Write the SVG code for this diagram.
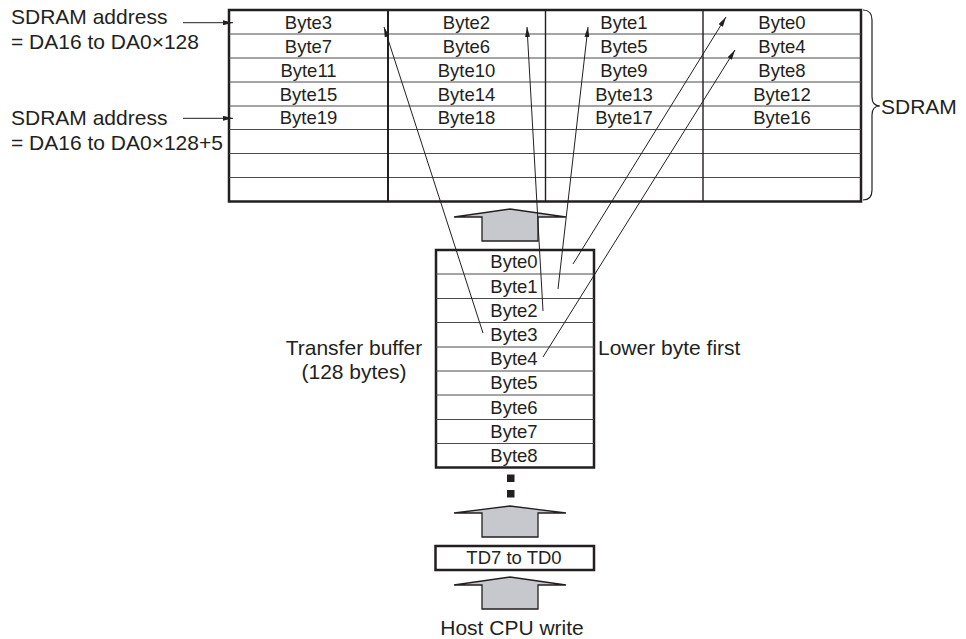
<svg xmlns="http://www.w3.org/2000/svg" width="966" height="639" viewBox="0 0 966 639">
<style>
  .t { font-family: "Liberation Sans", Arial, Helvetica, sans-serif; fill: #231f20; }
  .lbl { font-size: 21px; }
  .cell { font-size: 18.5px; text-anchor: middle; }
  .mid { text-anchor: middle; }
  .frame { fill: #ffffff; stroke: #231f20; stroke-width: 2.5; }
  .rule { stroke: #4a4a4a; stroke-width: 1; fill: none; }
  .col1 { stroke: #231f20; stroke-width: 2; }
  .col { stroke: #231f20; stroke-width: 1.4; }
  .conn { stroke: #231f20; stroke-width: 1; fill: none; marker-end: url(#ah); }
  .big { fill: #c6c8cd; stroke: #231f20; stroke-width: 1.3; stroke-linejoin: miter; }
  .brace { fill: none; stroke: #231f20; stroke-width: 1.2; }
</style>
<defs>
  <marker id="ah" markerWidth="10" markerHeight="5" refX="10" refY="2.5" orient="auto" markerUnits="userSpaceOnUse">
    <path d="M0,0 L10,2.5 L0,5 z" fill="#231f20"/>
  </marker>
</defs>
<rect width="966" height="639" fill="#ffffff"/>

<!-- SDRAM table -->
<g id="sdram">
  <rect class="frame" x="229" y="10" width="632" height="191.5"/>
  <g class="rule">
    <line x1="229" y1="34" x2="861" y2="34"/>
    <line x1="229" y1="58" x2="861" y2="58"/>
    <line x1="229" y1="82" x2="861" y2="82"/>
    <line x1="229" y1="106" x2="861" y2="106"/>
    <line x1="229" y1="129.5" x2="861" y2="129.5"/>
    <line x1="229" y1="153.5" x2="861" y2="153.5"/>
    <line x1="229" y1="177.5" x2="861" y2="177.5"/>
  </g>
  <line class="col1" x1="388" y1="10" x2="388" y2="201.5"/>
  <line class="col" x1="545.5" y1="10" x2="545.5" y2="201.5"/>
  <line class="col" x1="703" y1="10" x2="703" y2="201.5"/>
  <g class="t cell">
    <text x="308.5" y="29">Byte3</text>
    <text x="466.5" y="29">Byte2</text>
    <text x="624" y="29">Byte1</text>
    <text x="782" y="29">Byte0</text>
    <text x="308.5" y="53">Byte7</text>
    <text x="466.5" y="53">Byte6</text>
    <text x="624" y="53">Byte5</text>
    <text x="782" y="53">Byte4</text>
    <text x="308.5" y="77">Byte11</text>
    <text x="466.5" y="77">Byte10</text>
    <text x="624" y="77">Byte9</text>
    <text x="782" y="77">Byte8</text>
    <text x="308.5" y="100.5">Byte15</text>
    <text x="466.5" y="100.5">Byte14</text>
    <text x="624" y="100.5">Byte13</text>
    <text x="782" y="100.5">Byte12</text>
    <text x="308.5" y="124">Byte19</text>
    <text x="466.5" y="124">Byte18</text>
    <text x="624" y="124">Byte17</text>
    <text x="782" y="124">Byte16</text>
  </g>
</g>

<!-- SDRAM brace and label -->
<g id="sdram-label">
  <path class="brace" d="M863,10 Q872,10 872,20 L872,97 Q872,106 880,106 Q872,106 872,115 L872,190 Q872,200 863,200"/>
  <text class="t lbl" x="881" y="113.5">SDRAM</text>
</g>

<!-- Address labels -->
<g id="addr1">
  <text class="t lbl" x="11" y="24">SDRAM address</text>
  <text class="t lbl" x="11" y="48.5">= DA16 to DA0×128</text>
</g>
<g id="addr2">
  <text class="t lbl" x="11" y="125">SDRAM address</text>
  <text class="t lbl" x="11" y="150">= DA16 to DA0×128+5</text>
</g>

<!-- Transfer buffer -->
<g id="buffer">
  <rect class="frame" x="436" y="250" width="158" height="217.5"/>
  <g class="rule">
    <line x1="436" y1="274" x2="594" y2="274"/>
    <line x1="436" y1="298.5" x2="594" y2="298.5"/>
    <line x1="436" y1="322.5" x2="594" y2="322.5"/>
    <line x1="436" y1="347" x2="594" y2="347"/>
    <line x1="436" y1="371" x2="594" y2="371"/>
    <line x1="436" y1="395" x2="594" y2="395"/>
    <line x1="436" y1="419.5" x2="594" y2="419.5"/>
    <line x1="436" y1="443.5" x2="594" y2="443.5"/>
  </g>
  <g class="t cell">
    <text x="514" y="268">Byte0</text>
    <text x="514" y="292.5">Byte1</text>
    <text x="514" y="316.5">Byte2</text>
    <text x="514" y="341">Byte3</text>
    <text x="514" y="365">Byte4</text>
    <text x="514" y="389">Byte5</text>
    <text x="514" y="413.5">Byte6</text>
    <text x="514" y="437.5">Byte7</text>
    <text x="514" y="461.5">Byte8</text>
  </g>
  <rect x="507" y="474.5" width="7.5" height="7.5" fill="#231f20"/>
  <rect x="507" y="490" width="7.5" height="7.5" fill="#231f20"/>
</g>
<g id="buffer-label">
  <text class="t lbl mid" x="354" y="355">Transfer buffer</text>
  <text class="t lbl mid" x="354" y="379">(128 bytes)</text>
</g>
<g id="order-label">
  <text class="t lbl" x="598" y="355">Lower byte first</text>
</g>

<!-- TD box -->
<g id="td">
  <rect class="frame" x="435.5" y="546" width="158.5" height="24"/>
  <text class="t cell" x="514" y="564">TD7 to TD0</text>
</g>
<g id="host">
  <text class="t lbl mid" x="512" y="635">Host CPU write</text>
</g>

<!-- Block arrows -->
<g id="block-arrows">
  <polygon class="big" points="454,217 510,209 566,217 538,217 538,241 482,241 482,217"/>
  <polygon class="big" points="454,513 510,506 566,513 538,513 538,537 482,537 482,513"/>
  <polygon class="big" points="454,585 510,577 566,585 538,585 538,609 482,609 482,585"/>
</g>

<!-- Connectors -->
<g id="connectors">
  <line class="conn" x1="183" y1="22.7" x2="233" y2="22.7"/>
  <line class="conn" x1="183" y1="118.3" x2="233" y2="118.3"/>
  <line class="conn" x1="573" y1="264" x2="726" y2="17"/>
  <line class="conn" x1="558" y1="289" x2="588" y2="27"/>
  <line class="conn" x1="543" y1="311" x2="527" y2="27"/>
  <line class="conn" x1="483" y1="333" x2="384" y2="27"/>
  <line class="conn" x1="543" y1="357" x2="735" y2="50"/>
</g>
</svg>
